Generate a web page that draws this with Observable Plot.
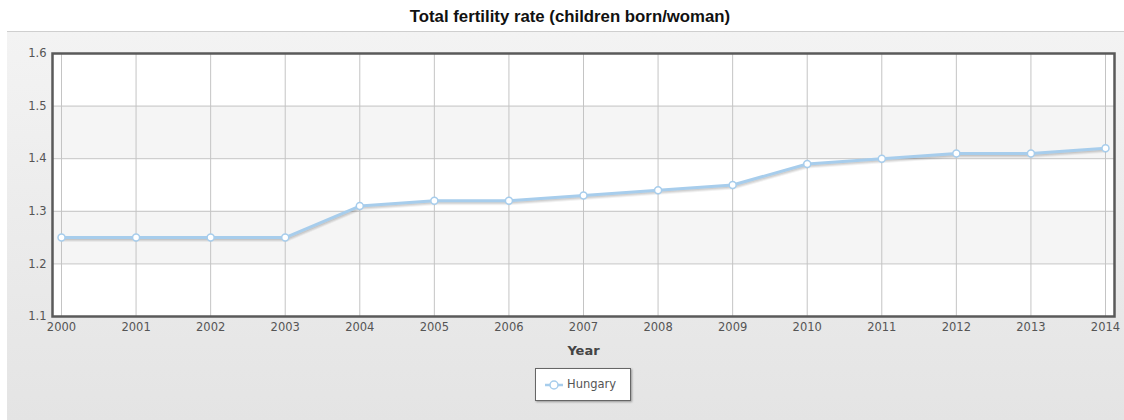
<!DOCTYPE html>
<html>
<head>
<meta charset="utf-8">
<script src="https://cdn.jsdelivr.net/npm/d3@7"></script>
<script src="https://cdn.jsdelivr.net/npm/@observablehq/plot@0.6"></script>
<style>
  html, body { margin: 0; padding: 0; background: #fff; }
  #wrap { position: relative; width: 1124px; height: 420px; overflow: hidden; }
  #panel { position: absolute; left: 7px; top: 31px; right: 0; bottom: 0;
           border-top: 1px solid #cfcfcf;
           background: linear-gradient(to bottom, #f3f3f3 0%, #e4e4e4 100%); }
  #title { position: absolute; top: 7px; left: 320px; width: 500px; text-align: center;
           font: bold 16.8px "Liberation Sans", Arial, sans-serif; color: #111; line-height: 20px; }
  #chart { position: absolute; left: 0; top: 0; }
  #legend { position: absolute; left: 535px; top: 368px; width: 96px; height: 33px;
            background: #fff; border: 1px solid #666; box-shadow: 1px 1px 2px rgba(0,0,0,0.35);
            font: 11.5px "DejaVu Sans", Verdana, sans-serif; color: #555; box-sizing: border-box; }
  #legend svg { position: absolute; left: 8px; top: 9px; }
  #legend span { position: absolute; left: 31px; top: 8px; }
</style>
</head>
<body>
<div id="wrap">
  <div id="panel"></div>
  <div id="title"></div>
  <div id="chart"></div>
  <div id="legend"></div>
</div>
<script>
const titleText = "Total fertility rate (children born/woman)";
const xLabel = "Year";
const seriesName = "Hungary";
const years = [2000, 2001, 2002, 2003, 2004, 2005, 2006, 2007, 2008, 2009, 2010, 2011, 2012, 2013, 2014];
const values = [1.25, 1.25, 1.25, 1.25, 1.31, 1.32, 1.32, 1.33, 1.34, 1.35, 1.39, 1.40, 1.41, 1.41, 1.42];
const yTicks = [1.1, 1.2, 1.3, 1.4, 1.5, 1.6];
const bandLow = [1.2, 1.4];
const bandHigh = [1.3, 1.5];

const data = years.map((y, i) => ({year: y, value: values[i]}));
const bands = bandLow.map((v, i) => ({y1: v, y2: bandHigh[i]}));
const lineColor = "#a7cdec";

document.getElementById("title").textContent = titleText;

const chart = Plot.plot({
  width: 1124,
  height: 420,
  marginLeft: 52,
  marginRight: 10,
  marginTop: 53,
  marginBottom: 104,
  style: {background: "transparent", fontFamily: "'DejaVu Sans', Verdana, sans-serif", fontSize: "11.5px", color: "#555"},
  x: {domain: [2000, 2014], insetLeft: 9, insetRight: 9},
  y: {domain: [1.1, 1.6]},
  marks: [
    Plot.frame({fill: "#fff", stroke: null}),
    Plot.rect(bands, {y1: "y1", y2: "y2", fill: "#f5f5f5"}),
    Plot.gridX(years, {stroke: "#c4c4c4", strokeOpacity: 1}),
    Plot.gridY(yTicks, {stroke: "#c4c4c4", strokeOpacity: 1}),
    Plot.axisX(years, {tickSize: 0, tickPadding: 6, tickFormat: d => String(d), label: null, fill: "#555"}),
    Plot.axisY(yTicks, {tickSize: 0, tickPadding: 6, tickFormat: d => d.toFixed(1), label: null, fill: "#555"}),
    Plot.line(data, {x: "year", y: "value", stroke: "#000", strokeOpacity: 0.05, strokeWidth: 3, dx: 1, dy: 3}),
    Plot.line(data, {x: "year", y: "value", stroke: "#000", strokeOpacity: 0.07, strokeWidth: 3, dx: 1, dy: 2}),
    Plot.line(data, {x: "year", y: "value", stroke: "#000", strokeOpacity: 0.08, strokeWidth: 3, dx: 0.5, dy: 1}),
    Plot.line(data, {x: "year", y: "value", stroke: lineColor, strokeWidth: 3}),
    Plot.dot(data, {x: "year", y: "value", r: 3.5, fill: "#fff", stroke: lineColor, strokeWidth: 1.5}),
    Plot.frame({stroke: "#5a5a5a", strokeWidth: 2.5}),
    Plot.text([xLabel], {frameAnchor: "bottom", dy: 38, fontWeight: "bold", fill: "#444", fontSize: 13})
  ]
});
document.getElementById("chart").appendChild(chart);

const leg = document.getElementById("legend");
leg.innerHTML = `<svg width="20" height="14"><line x1="1" y1="7" x2="19" y2="7" stroke="${lineColor}" stroke-width="2.5"/><circle cx="10" cy="7" r="4" fill="#fff" stroke="${lineColor}" stroke-width="1.5"/></svg><span></span>`;
leg.querySelector("span").textContent = seriesName;
</script>
</body>
</html>
